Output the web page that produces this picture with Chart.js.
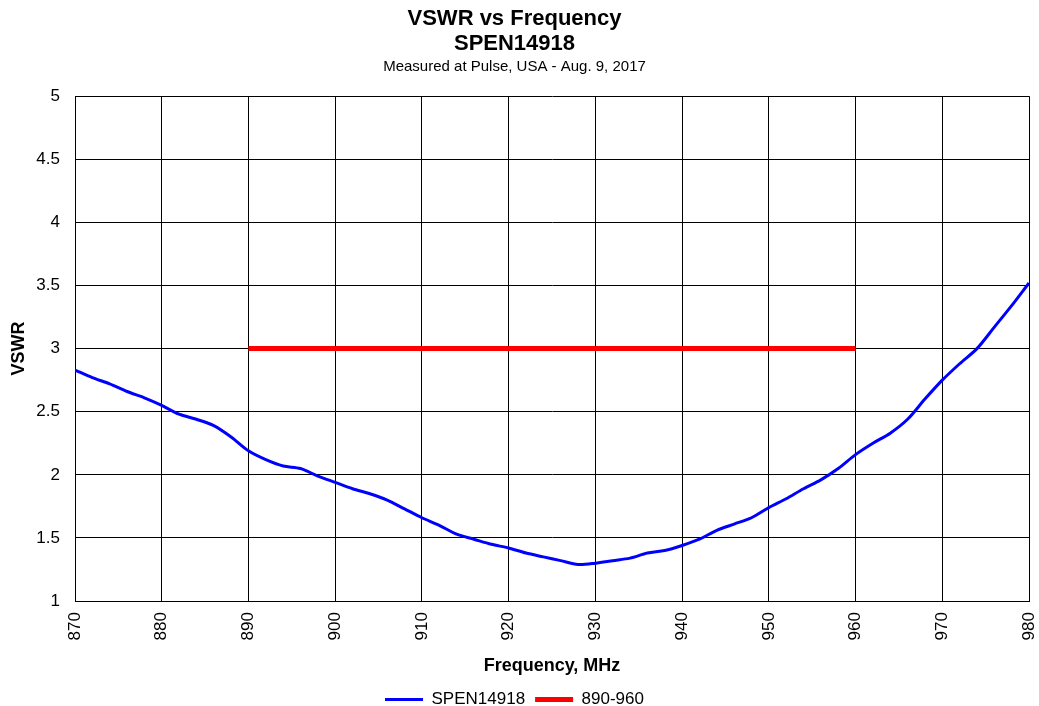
<!DOCTYPE html>
<html lang="en">
<head>
  <meta charset="UTF-8">
  <title>VSWR vs Frequency</title>
  <script src="https://cdn.jsdelivr.net/npm/chart.js"></script>
  <style>
    body {
      margin: 0;
      padding: 0;
      background-color: #fff;
    }
    #chartBox {
      width: 1039px;
      height: 706px;
    }
  </style>
</head>
<body>
  <div id="chartBox">
    <canvas id="vswrChart"></canvas>
  </div>

  <script>
    // measured VSWR, read every 2 MHz off the plot
    const freqs = [870, 872, 874, 876, 878, 880, 882, 884, 886, 888, 890, 892, 894, 896, 898, 900,
      902, 904, 906, 908, 910, 912, 914, 916, 918, 920, 922, 924, 926, 928, 930, 932, 934, 936,
      938, 940, 942, 944, 946, 948, 950, 952, 954, 956, 958, 960, 962, 964, 966, 968, 970, 972,
      974, 976, 978, 980];
    const vswr = [2.83, 2.77, 2.72, 2.66, 2.61, 2.55, 2.48, 2.44, 2.39, 2.30, 2.19, 2.12, 2.07, 2.05, 1.99, 1.94,
      1.89, 1.85, 1.80, 1.73, 1.66, 1.60, 1.53, 1.49, 1.45, 1.42, 1.38, 1.35, 1.32, 1.29, 1.30, 1.32,
      1.34, 1.38, 1.40, 1.44, 1.49, 1.56, 1.61, 1.66, 1.74, 1.81, 1.89, 1.96, 2.05, 2.16, 2.25, 2.33,
      2.44, 2.60, 2.75, 2.88, 3.00, 3.17, 3.34, 3.52];

    const bandFreqs = [890, 960];
    const bandLimit = [3, 3];

    const xTicks = [870, 880, 890, 900, 910, 920, 930, 940, 950, 960, 970, 980];

    const font = 'Liberation Sans, Arial, sans-serif';

    const ctx = document.getElementById('vswrChart').getContext('2d');
    const vswrChart = new Chart(ctx, {
      type: 'line',
      data: {
        datasets: [{
          label: 'SPEN14918',
          data: freqs.map((f, i) => ({ x: f, y: vswr[i] })),
          borderColor: '#0000ff',
          backgroundColor: '#0000ff',
          borderWidth: 3,
          pointRadius: 0,
          tension: 0.3
        }, {
          label: '890-960',
          data: bandFreqs.map((f, i) => ({ x: f, y: bandLimit[i] })),
          borderColor: '#ff0000',
          backgroundColor: '#ff0000',
          borderWidth: 5,
          pointRadius: 0
        }]
      },
      options: {
        responsive: true,
        maintainAspectRatio: false,
        animation: false,
        layout: { padding: { left: 0, right: 10, top: 6, bottom: -12 } },
        plugins: {
          title: {
            display: true,
            text: ['VSWR vs Frequency', 'SPEN14918'],
            color: '#000',
            font: { family: font, size: 22, weight: 'bold', lineHeight: 1.14 },
            padding: { top: 0, bottom: 2 }
          },
          subtitle: {
            display: true,
            text: 'Measured at Pulse, USA - Aug. 9, 2017',
            color: '#000',
            font: { family: font, size: 15 },
            padding: { top: 0, bottom: 20 }
          },
          legend: {
            position: 'bottom',
            labels: {
              color: '#000',
              font: { family: font, size: 17 },
              usePointStyle: true,
              pointStyle: 'line',
              pointStyleWidth: 38,
              boxHeight: 6,
              padding: 10
            }
          },
          tooltip: { enabled: false }
        },
        scales: {
          x: {
            type: 'linear',
            min: 870,
            max: 980,
            afterBuildTicks: axis => { axis.ticks = xTicks.map(v => ({ value: v })); },
            ticks: {
              color: '#000',
              minRotation: 90,
              maxRotation: 90,
              font: { family: font, size: 17 },
              padding: 11
            },
            grid: { color: '#000', lineWidth: 1, drawTicks: false },
            border: { color: '#000', width: 1 },
            title: {
              display: true,
              text: 'Frequency, MHz',
              color: '#000',
              font: { family: font, size: 18, weight: 'bold' },
              padding: { top: 4, bottom: 4 }
            },
            afterFit: axis => {
              axis.paddingLeft = 0;
              axis.paddingRight = 0;
            }
          },
          y: {
            min: 1,
            max: 5,
            ticks: {
              stepSize: 0.5,
              color: '#000',
              font: { family: font, size: 17 },
              padding: 15,
              callback: v => String(v)
            },
            grid: { color: '#000', lineWidth: 1, drawTicks: false },
            border: { color: '#000', width: 1 },
            title: {
              display: true,
              text: 'VSWR',
              color: '#000',
              font: { family: font, size: 18, weight: 'bold' },
              padding: { top: 8, bottom: 0 }
            },
            afterFit: axis => { axis.width = 75; }
          }
        }
      }
    });
  </script>
</body>
</html>
